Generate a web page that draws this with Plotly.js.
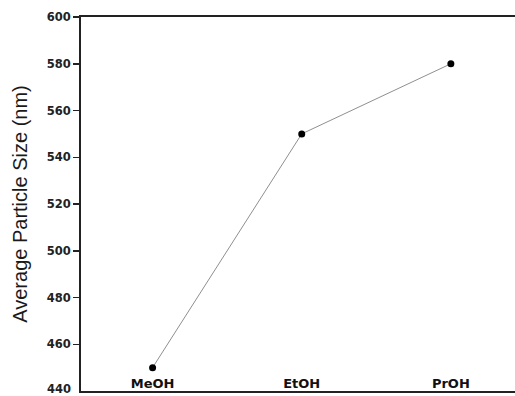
<!DOCTYPE html>
<html>
<head>
<meta charset="utf-8">
<script src="https://cdn.plot.ly/plotly-3.0.1.min.js"></script>
<style>html,body{margin:0;padding:0;background:#fff;}#chart{width:515px;height:396px;}</style>
</head>
<body>
<div id="chart"></div>
<script>
const solvents = ['MeOH', 'EtOH', 'PrOH'];
const particleSize = [450, 550, 580];
const yTicks = [440, 460, 480, 500, 520, 540, 560, 580, 600];

const trace = {
  x: solvents,
  y: particleSize,
  type: 'scatter',
  mode: 'lines+markers',
  line: {color: '#8f8f8f', width: 1},
  marker: {color: '#000', size: 7},
  cliponaxis: false
};

const tickFont = {size: 11.5, family: 'DejaVu Sans, sans-serif', weight: 'bold', color: '#222'};

const layout = {
  width: 515, height: 396,
  margin: {l: 81, r: 0, t: 17, b: 5},
  paper_bgcolor: '#fff', plot_bgcolor: '#fff',
  showlegend: false,
  font: {family: 'Liberation Sans, Arial, sans-serif', color: '#111'},
  xaxis: {
    type: 'category',
    range: [-0.48, 2.43],
    showline: true, linecolor: '#222', linewidth: 2, mirror: true,
    showgrid: false, zeroline: false,
    ticks: '',
    ticklabelposition: 'inside',
    tickfont: {size: 13, family: 'DejaVu Sans, sans-serif', weight: 'bold', color: '#111'}
  },
  yaxis: {
    range: [440, 600],
    tickvals: yTicks,
    ticktext: yTicks.map(String),
    showline: true, linecolor: '#222', linewidth: 2, mirror: false,
    showgrid: false, zeroline: false,
    ticks: 'outside', ticklen: 6, tickwidth: 1.5, tickcolor: '#222',
    tickfont: tickFont,
    title: {text: 'Average Particle Size (nm)', font: {size: 20, family: 'Liberation Sans, Arial, sans-serif', color: '#1a1a1a'}, standoff: 14}
  },
  annotations: [{
    xref: 'paper', yref: 'y', x: 0, y: yTicks[0],
    text: String(yTicks[0]), showarrow: false,
    xanchor: 'right', yanchor: 'middle', xshift: -8, yshift: 2,
    font: tickFont
  }]
};

Plotly.newPlot('chart', [trace], layout, {displayModeBar: false, staticPlot: true});
</script>
</body>
</html>
